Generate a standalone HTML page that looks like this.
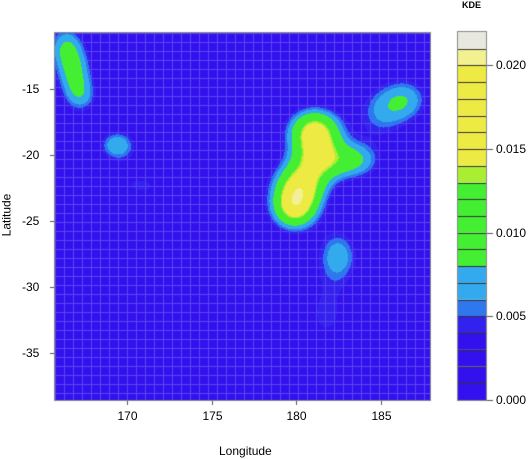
<!DOCTYPE html>
<html><head><meta charset="utf-8"><style>
body{margin:0;background:#fff;width:531px;height:459px;overflow:hidden;position:relative;font-family:"Liberation Sans",sans-serif;}
.t{position:absolute;font-size:12px;color:#000;white-space:nowrap;}
</style></head><body>
<canvas id="c" width="531" height="459" style="position:absolute;left:0;top:0"></canvas>
<div id="labels"></div>
<script>
// density bump components: lon, lat, sigma-lon, sigma-lat, amplitude
const compLon=[166.4,166.9,167.3,169.4,171.0,169.9,181.1,181.3,180.3,179.9,179.9,183.4,185.0,186.5,182.5,181.8,172.2];
const compLat=[-11.8,-13.8,-15.6,-19.2,-22.4,-20.5,-18.2,-20.3,-22.3,-24.0,-22.8,-20.4,-16.8,-15.8,-27.6,-32.0,-13.5];
const compSx=[0.75,0.75,0.75,0.7,1.0,1.2,1.05,1.0,0.95,0.85,1.6,1.1,1.1,1.0,0.85,1.3,1.0];
const compSy=[1.2,1.3,1.0,0.75,0.6,1.5,1.15,1.1,1.1,1.05,2.2,1.0,1.5,1.2,1.4,2.5,1.0];
const compAmp=[0.0065,0.0068,0.0048,0.0058,0.003,0.002,0.0145,0.0105,0.0115,0.0125,0.003,0.0075,0.0048,0.0058,0.0058,0.0035,0.0018];
const levelBreaks=[0,0.001,0.002,0.003,0.004,0.005,0.006,0.007,0.008,0.009,0.010,0.011,0.012,0.013,0.014,0.015,0.016,0.017,0.018,0.019,0.020,0.021,0.022];
const levelColors=["#3311ee","#3311ee","#3311ee","#3311ee","#3322ee","#2e77ee","#33aaee","#33aaee","#44ee33","#44ee33","#44ee33","#44ee33","#44ee33","#aaee33","#eeea44","#eeea44","#eeea44","#eeea44","#eeea44","#eeea44","#f2f090","#e8e8e0"];
const xTicks=[170,175,180,185];
const yTicks=[-15,-20,-25,-30,-35];
const legendTicks=[0.000,0.005,0.010,0.015,0.020];

const X0=55,X1=430,Y0=33,Y1=400;
const lonMin=165.75,lonMax=187.9,latMax=-10.76,latMin=-38.56;
const sx=v=>X0+(v-lonMin)/(lonMax-lonMin)*(X1-X0);
const sy=v=>Y0+(latMax-v)/(latMax-latMin)*(Y1-Y0);
const LY0=32,LY1=400;
const ly=v=>LY1-(v-levelBreaks[0])/(levelBreaks[levelBreaks.length-1]-levelBreaks[0])*(LY1-LY0);

const c=document.getElementById('c');const g=c.getContext('2d');
function dens(lon,lat){let s=0.0008;for(let i=0;i<compLon.length;i++){const dx=(lon-compLon[i])/compSx[i],dy=(lat-compLat[i])/compSy[i];s+=compAmp[i]*Math.exp(-0.5*(dx*dx+dy*dy));}return s;}
function colorFor(d){for(let i=levelBreaks.length-2;i>=0;i--){if(d>=levelBreaks[i])return levelColors[i];}return levelColors[0];}
const img=g.createImageData(X1-X0,Y1-Y0);
function hex(h){return [parseInt(h.substr(1,2),16),parseInt(h.substr(3,2),16),parseInt(h.substr(5,2),16)];}
for(let py=0;py<Y1-Y0;py++){for(let px=0;px<X1-X0;px++){
 const lon=lonMin+(px+0.5)/(X1-X0)*(lonMax-lonMin),lat=latMax-(py+0.5)/(Y1-Y0)*(latMax-latMin);
 let col=hex(colorFor(dens(lon,lat)));
 if((px%9===0||py%9===0)&&col[2]>200&&col[1]<60){col=[90,70,240];}
 const k=(py*(X1-X0)+px)*4;img.data[k]=col[0];img.data[k+1]=col[1];img.data[k+2]=col[2];img.data[k+3]=255;}}
g.putImageData(img,X0,Y0);
g.strokeStyle="#888";g.lineWidth=1;g.strokeRect(X0-0.5,Y0-0.5,X1-X0+1,Y1-Y0+1);
// legend
for(let i=0;i<levelColors.length;i++){g.fillStyle=levelColors[i];const a=ly(levelBreaks[i+1]),b=ly(levelBreaks[i]);g.fillRect(458,a,28,b-a);g.strokeStyle="#333";g.beginPath();g.moveTo(458,Math.round(b)+0.5);g.lineTo(486,Math.round(b)+0.5);g.stroke();}
g.strokeStyle="#888";g.strokeRect(457.5,LY0-0.5,29,LY1-LY0+1);
const L=document.getElementById('labels');
function lab(txt,x,y,name,extra){const d=document.createElement('div');d.className='t';d.textContent=txt;d.style.left=x+'px';d.style.top=y+'px';if(extra)d.style.cssText+=extra;


L.appendChild(d);}
g.strokeStyle="#555";
xTicks.forEach(v=>{const x=Math.round(sx(v))+0.5;g.beginPath();g.moveTo(x,Y1+1);g.lineTo(x,Y1+5);g.stroke();lab(v,x-10,409,'x-tick-label');});
yTicks.forEach(v=>{const y=Math.round(sy(v))+0.5;g.beginPath();g.moveTo(X0-5,y);g.lineTo(X0-1,y);g.stroke();lab(v,22,y-8,'y-tick-label');});
legendTicks.forEach(v=>{const y=Math.round(ly(v))+0.5;g.beginPath();g.moveTo(487,y);g.lineTo(493,y);g.stroke();lab(v.toFixed(3),496,y-8,'legend-tick-label');});
lab('Longitude',219,444,'x-axis-title');
lab('Latitude',-15,208,'y-axis-title','transform:rotate(-90deg);');
lab('KDE',462,0,'legend-title','font-size:9px;font-weight:bold;');
</script>
</body></html>
